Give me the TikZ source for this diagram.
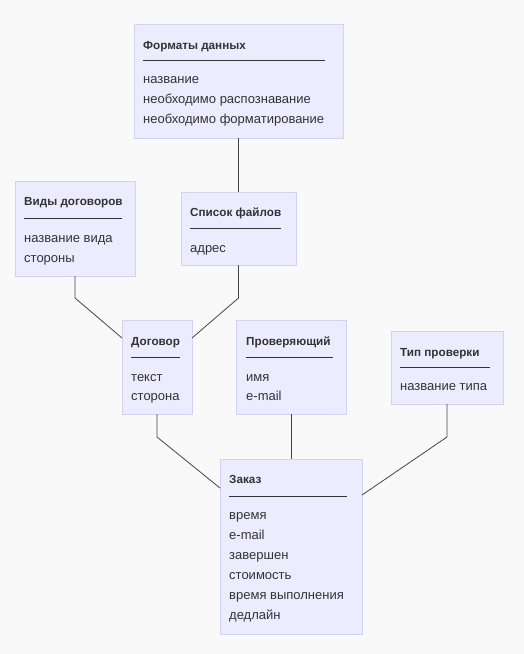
\documentclass[tikz,border=0pt]{standalone}
\usepackage{fontspec}
\setmainfont{Liberation Sans}
\definecolor{bg}{HTML}{F9F9F9}
\definecolor{boxfill}{HTML}{ECECFF}
\definecolor{boxline}{HTML}{D2D2F6}
\definecolor{txt}{HTML}{333333}
\definecolor{connc}{HTML}{444444}
\tikzset{
  box/.style={draw=boxline, fill=boxfill, line width=0.9pt, anchor=north west, inner sep=0pt, outer sep=0pt},
  ttl/.style={anchor=base west, inner sep=0pt, font=\bfseries\fontsize{11.7}{14}\selectfont, text=txt},
  attr/.style={anchor=base west, inner sep=0pt, font=\fontsize{13}{15}\selectfont, text=txt},
  rulel/.style={draw=txt, line width=0.9pt},
  conn/.style={draw=connc, line width=0.8pt}
}
\begin{document}
\begin{tikzpicture}[x=1pt,y=-1pt]
\fill[bg] (0,0) rectangle (524,654);
\useasboundingbox (0,0) rectangle (524,654);

% Форматы данных
\node[box, minimum width=209pt, minimum height=114pt] (fmt) at (134,24) {};
\node[ttl] (fmtT) at (143,49) {Форматы данных};
\draw[rulel] (143,60) -- (325,60);
\node[attr] (fmtA1) at (143,83) {название};
\node[attr] (fmtA2) at (143,103) {необходимо распознавание};
\node[attr] (fmtA3) at (143,123) {необходимо форматирование};

% Виды договоров
\node[box, minimum width=120pt, minimum height=95pt] (vid) at (15,181) {};
\node[ttl] (vidT) at (24,205) {Виды договоров};
\draw[rulel] (24,218) -- (122,218);
\node[attr] (vidA1) at (24,242) {название вида};
\node[attr] (vidA2) at (24,262) {стороны};

% Список файлов
\node[box, minimum width=115pt, minimum height=73pt] (files) at (181,192) {};
\node[ttl] (filesT) at (190,216) {Список файлов};
\draw[rulel] (190,228) -- (281,228);
\node[attr] (filesA1) at (190,252) {адрес};

% Договор
\node[box, minimum width=70pt, minimum height=94pt] (dog) at (122,320) {};
\node[ttl] (dogT) at (131,345) {Договор};
\draw[rulel] (131,357) -- (180,357);
\node[attr] (dogA1) at (131,381) {текст};
\node[attr] (dogA2) at (131,400) {сторона};

% Проверяющий
\node[box, minimum width=110pt, minimum height=94pt] (chk) at (236,320) {};
\node[ttl] (chkT) at (246,345) {Проверяющий};
\draw[rulel] (246,357) -- (333,357);
\node[attr] (chkA1) at (246,381) {имя};
\node[attr] (chkA2) at (246,400) {e-mail};

% Тип проверки
\node[box, minimum width=112pt, minimum height=73pt] (typ) at (391,331) {};
\node[ttl] (typT) at (400,356) {Тип проверки};
\draw[rulel] (400,367) -- (490,367);
\node[attr] (typA1) at (400,390) {название типа};

% Заказ
\node[box, minimum width=142pt, minimum height=175pt] (ord) at (220,459) {};
\node[ttl] (ordT) at (229,483) {Заказ};
\draw[rulel] (229,496) -- (347,496);
\node[attr] (ordA1) at (229,519) {время};
\node[attr] (ordA2) at (229,539) {e-mail};
\node[attr] (ordA3) at (229,559) {завершен};
\node[attr] (ordA4) at (229,579) {стоимость};
\node[attr] (ordA5) at (229,599) {время выполнения};
\node[attr] (ordA6) at (229,619) {дедлайн};

% connectors
\draw[conn] (fmt.south) -- (files.north);
\draw[conn] (vid.south) -- ++(0,22) -- ([yshift=29pt]dog.west);
\draw[conn] (files.south) -- ++(0,33) -- ([yshift=29pt]dog.east);
\draw[conn] (dog.south) -- ++(0,23) -- ([yshift=58.5pt]ord.west);
\draw[conn] (chk.south) -- (ord.north);
\draw[conn] (typ.south) -- ++(0,33) -- ([yshift=51.5pt]ord.east);
\end{tikzpicture}
\end{document}
